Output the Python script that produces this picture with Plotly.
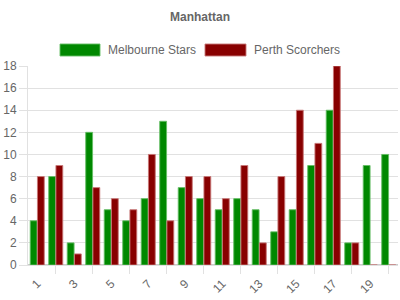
import plotly.graph_objects as go

overs = list(range(1, 21))
melbourne_stars = [4, 8, 2, 12, 5, 4, 6, 13, 7, 6, 5, 6, 5, 3, 5, 9, 14, 2, 9, 10]
perth_scorchers = [8, 9, 1, 7, 6, 5, 10, 4, 8, 8, 6, 9, 2, 8, 14, 11, 18, 2, 0, 0]
series_names = ["Melbourne Stars", "Perth Scorchers"]
tick_labels = [str(i) for i in overs if i % 2 == 1]

FONT = "Liberation Sans, Arial, sans-serif"
GRAY = "#666666"
GRID = "#e1e1e1"
FILLS = ["#008800", "#880000"]
EDGES = ["rgba(100,190,100,0.9)", "rgba(200,120,120,0.9)"]

W, H = 400, 300
L, R, T, B = 28, 2, 66, 35
PW, PH = W - L - R, H - T - B


def px_x(p):
    return (p - L) / PW


def px_y(p):
    return (H - B - p) / PH


fig = go.Figure()
for name, vals, fc, ec in zip(series_names, [melbourne_stars, perth_scorchers], FILLS, EDGES):
    fig.add_trace(go.Bar(x=overs, y=vals, name=name, showlegend=False,
                         marker=dict(color=fc, line=dict(color=ec, width=1))))

# Legend drawn as boxes + labels (Chart.js style wide boxes)
legend_boxes = [(60, 100), (205, 246)]
legend_text_x = [106, 252]
shapes = []
annotations = []
for (x0, x1), tx, name, fc, ec in zip(legend_boxes, legend_text_x, series_names, FILLS, EDGES):
    shapes.append(dict(type="rect", xref="paper", yref="paper",
                       x0=px_x(x0), x1=px_x(x1), y0=px_y(56), y1=px_y(44),
                       fillcolor=fc, line=dict(color=ec, width=1)))
    annotations.append(dict(text=name, xref="paper", yref="paper", x=px_x(tx), y=px_y(50),
                            xanchor="left", yanchor="middle", showarrow=False,
                            font=dict(family=FONT, size=12, color=GRAY)))

fig.update_layout(
    width=W, height=H,
    margin=dict(l=L, r=R, t=T, b=B),
    paper_bgcolor="white", plot_bgcolor="white",
    font=dict(family=FONT, size=12, color=GRAY),
    barmode="group", bargap=0.22, bargroupgap=0.05,
    title=dict(text="<b>Manhattan</b>", x=0.5, xanchor="center", y=1 - 17 / H, yanchor="middle",
               font=dict(family=FONT, size=12, color=GRAY)),
    showlegend=False,
    shapes=shapes, annotations=annotations,
)
fig.update_xaxes(
    range=[0.5, 20.5],
    tickmode="array", tickvals=[i for i in overs if i % 2 == 1], ticktext=tick_labels,
    tickangle=-45, ticks="", showgrid=False, ticklabelstandoff=6,
    showline=True, linecolor=GRID, linewidth=1,
    minor=dict(tickmode="array", tickvals=[i for i in overs if i % 2 == 0], ticks="outside",
               ticklen=8, tickcolor=GRID, showgrid=False),
    tickfont=dict(family=FONT, size=12, color=GRAY),
    zeroline=False,
)
fig.update_yaxes(
    range=[0, 18], dtick=2, showgrid=True, gridcolor=GRID, gridwidth=1,
    ticks="outside", ticklen=8, tickcolor=GRID,
    showline=True, linecolor=GRID, linewidth=1,
    zeroline=True, zerolinecolor="#cccccc",
    tickfont=dict(family=FONT, size=12, color=GRAY),
)

fig.write_html("out.html")
